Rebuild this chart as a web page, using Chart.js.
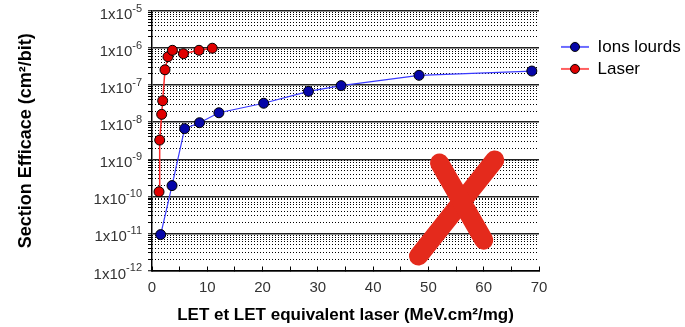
<!DOCTYPE html>
<html>
<head>
<meta charset="utf-8">
<script src="https://cdn.jsdelivr.net/npm/chart.js@4.4.0/dist/chart.umd.min.js"></script>
<style>
html, body { margin: 0; padding: 0; background: #fff; }
</style>
</head>
<body>
<canvas id="grafico" width="685" height="327"></canvas>
<script>
// LET (MeV.cm2/mg) et section efficace (cm2/bit)
const letIons = [1.57, 3.62, 5.9, 8.6, 12.1, 20.2, 28.3, 34.2, 48.3, 68.7];
const sigmaIons = [9.3e-12, 1.95e-10, 6.7e-9, 9.7e-9, 1.8e-8, 3.25e-8, 6.8e-8, 9.7e-8, 1.84e-7, 2.4e-7];

const letLaser = [1.27, 1.39, 1.75, 1.93, 2.35, 2.89, 3.69, 5.68, 8.5, 10.9];
const sigmaLaser = [1.33e-10, 3.3e-9, 1.63e-8, 3.8e-8, 2.6e-7, 5.85e-7, 8.7e-7, 7.05e-7, 8.7e-7, 9.9e-7];

const ticksX = [0, 5, 10, 15, 20, 25, 30, 35, 40, 45, 50, 55, 60, 65, 70];
const decades = [-12, -11, -10, -9, -8, -7, -6, -5];

// la grosse croix rouge (coordonnées en unités des axes, y en log10)
const croix = [
    [[48.2, -11.61], [62.0, -9.02]],
    [[52.0, -9.10], [60.0, -11.18]]
];

const police = "'Liberation Sans', Arial, sans-serif";

let ticksMajeurs = decades.map(e => Math.pow(10, e));
let ticksMineurs = [];
for (let i = 0; i < decades.length - 1; i++) {
    for (let m = 2; m <= 9; m++) {
        ticksMineurs.push(m * Math.pow(10, decades[i]));
    }
}
let tousTicks = ticksMajeurs.concat(ticksMineurs).sort((a, b) => a - b);

function estMajeur(v) {
    let l = Math.log10(v);
    return Math.abs(l - Math.round(l)) < 1e-6;
}

function iconeLegende(couleurLigne, couleurPoint) {
    let c = document.createElement('canvas');
    c.width = 28;
    c.height = 12;
    let g = c.getContext('2d');
    g.strokeStyle = couleurLigne;
    g.lineWidth = 1.5;
    g.beginPath();
    g.moveTo(0, 6);
    g.lineTo(28, 6);
    g.stroke();
    g.fillStyle = couleurPoint;
    g.strokeStyle = '#000';
    g.lineWidth = 1;
    g.beginPath();
    g.arc(14, 6, 4.5, 0, Math.PI * 2);
    g.fill();
    g.stroke();
    return c;
}

// labels de l'axe y en 1x10 avec exposant surélevé
const pluginPuissances = {
    id: 'puissances',
    afterDraw(chart) {
        let ctx = chart.ctx;
        let sy = chart.scales.y;
        let xDroite = sy.right - 4 - 6;
        ctx.save();
        ctx.fillStyle = '#333';
        ctx.textAlign = 'right';
        ctx.textBaseline = 'alphabetic';
        decades.forEach(e => {
            let y = sy.getPixelForValue(Math.pow(10, e));
            let exp = String(e);
            ctx.font = '11px ' + police;
            let largeur = ctx.measureText(exp).width;
            ctx.fillText(exp, xDroite, y + 0.5);
            ctx.font = '15px ' + police;
            ctx.fillText('1x10', xDroite - largeur, y + 8);
        });
        ctx.restore();
    }
};

// la légende calcule une largeur trop courte avec l'icône ligne+point
const pluginLargeurLegende = {
    id: 'largeurLegende',
    beforeLayout(chart) {
        let lg = chart.legend;
        if (lg && !lg._largeurFixe) {
            let fitOrig = lg.fit.bind(lg);
            lg.fit = function () {
                fitOrig();
                this.width = 129;
            };
            lg._largeurFixe = true;
        }
    }
};

const pluginCroix = {
    id: 'croix',
    afterDatasetsDraw(chart) {
        let ctx = chart.ctx;
        let sx = chart.scales.x, sy = chart.scales.y;
        ctx.save();
        ctx.strokeStyle = '#e42a1c';
        ctx.lineWidth = 19;
        ctx.lineCap = 'round';
        croix.forEach(trait => {
            ctx.beginPath();
            ctx.moveTo(sx.getPixelForValue(trait[0][0]), sy.getPixelForValue(Math.pow(10, trait[0][1])));
            ctx.lineTo(sx.getPixelForValue(trait[1][0]), sy.getPixelForValue(Math.pow(10, trait[1][1])));
            ctx.stroke();
        });
        ctx.restore();
    }
};

let ctx = document.getElementById('grafico').getContext('2d');

let grafico = new Chart(ctx, {
    type: 'line',
    data: {
        datasets: [{
            label: 'Ions lourds',
            data: letIons.map((x, i) => ({ x: x, y: sigmaIons[i] })),
            borderColor: '#3a3aff',
            borderWidth: 1.2,
            pointBackgroundColor: '#0606a8',
            pointBorderColor: '#000',
            pointBorderWidth: 1,
            pointRadius: 5,
            tension: 0
        }, {
            label: 'Laser',
            data: letLaser.map((x, i) => ({ x: x, y: sigmaLaser[i] })),
            borderColor: '#ff2a2a',
            borderWidth: 1.5,
            pointBackgroundColor: '#e00000',
            pointBorderColor: '#000',
            pointBorderWidth: 1,
            pointRadius: 5,
            tension: 0
        }]
    },
    options: {
        responsive: false,
        animation: false,
        devicePixelRatio: 1,
        layout: { padding: { top: 11, right: 0, bottom: 0, left: 0 } },
        plugins: {
            tooltip: { enabled: false },
            legend: {
                position: 'right',
                align: 'start',
                title: { display: true, text: ' ', font: { size: 12 }, padding: 4 },
                labels: {
                    usePointStyle: true,
                    pointStyleWidth: 28,
                    padding: 5,
                    color: '#000',
                    font: { family: police, size: 17 },
                    generateLabels: chart => chart.data.datasets.map((ds, i) => ({
                        text: ds.label,
                        pointStyle: iconeLegende(ds.borderColor, ds.pointBackgroundColor),
                        fillStyle: ds.pointBackgroundColor,
                        strokeStyle: 'rgba(0,0,0,0)',
                        fontColor: '#000',
                        lineWidth: 0,
                        hidden: false,
                        datasetIndex: i
                    }))
                }
            }
        },
        scales: {
            x: {
                type: 'linear',
                min: 0,
                max: 70,
                afterBuildTicks: axis => { axis.ticks = ticksX.map(v => ({ value: v })); },
                afterFit: axis => { axis.height = 56.5; },
                ticks: {
                    autoSkip: false,
                    maxRotation: 0,
                    padding: 12,
                    color: '#333',
                    font: { family: police, size: 15 },
                    callback: v => (v % 10 === 0 ? String(v) : '')
                },
                grid: { drawOnChartArea: false, tickLength: -4, tickColor: '#000', tickWidth: 1 },
                border: { color: '#000', width: 1.5 },
                title: {
                    display: true,
                    text: 'LET et LET equivalent laser (MeV.cm²/mg)',
                    color: '#000',
                    font: { family: police, size: 17, weight: 'bold' },
                    padding: { top: 0, bottom: 1 }
                }
            },
            y: {
                type: 'logarithmic',
                position: 'left',
                min: 1e-12,
                max: 1e-5,
                afterBuildTicks: axis => { axis.ticks = tousTicks.map(v => ({ value: v })); },
                afterFit: axis => { axis.width = 152; },
                ticks: {
                    autoSkip: false,
                    padding: 0,
                    font: { size: 1 },
                    callback: () => ''
                },
                grid: {
                    color: c => (c.tick && estMajeur(c.tick.value) ? '#222' : 'rgba(0,0,0,0)'),
                    lineWidth: c => (c.tick && estMajeur(c.tick.value) ? 1.5 : 1),
                    tickColor: '#000',
                    tickLength: 4,
                    tickWidth: 1
                },
                border: { color: '#000', width: 1.5 },
                title: {
                    display: true,
                    text: 'Section Efficace (cm²/bit)',
                    color: '#000',
                    font: { family: police, size: 18, weight: 'bold' },
                    padding: { top: 15, bottom: 0 }
                }
            },
            y2: {
                type: 'logarithmic',
                position: 'right',
                min: 1e-12,
                max: 1e-5,
                afterBuildTicks: axis => { axis.ticks = ticksMineurs.map(v => ({ value: v })); },
                afterFit: axis => { axis.width = 17; },
                ticks: { display: false },
                grid: { color: '#000', lineWidth: 1, drawTicks: false },
                border: { display: false, dash: [1, 2] }
            }
        }
    },
    plugins: [pluginCroix, pluginPuissances, pluginLargeurLegende]
});
</script>
</body>
</html>
